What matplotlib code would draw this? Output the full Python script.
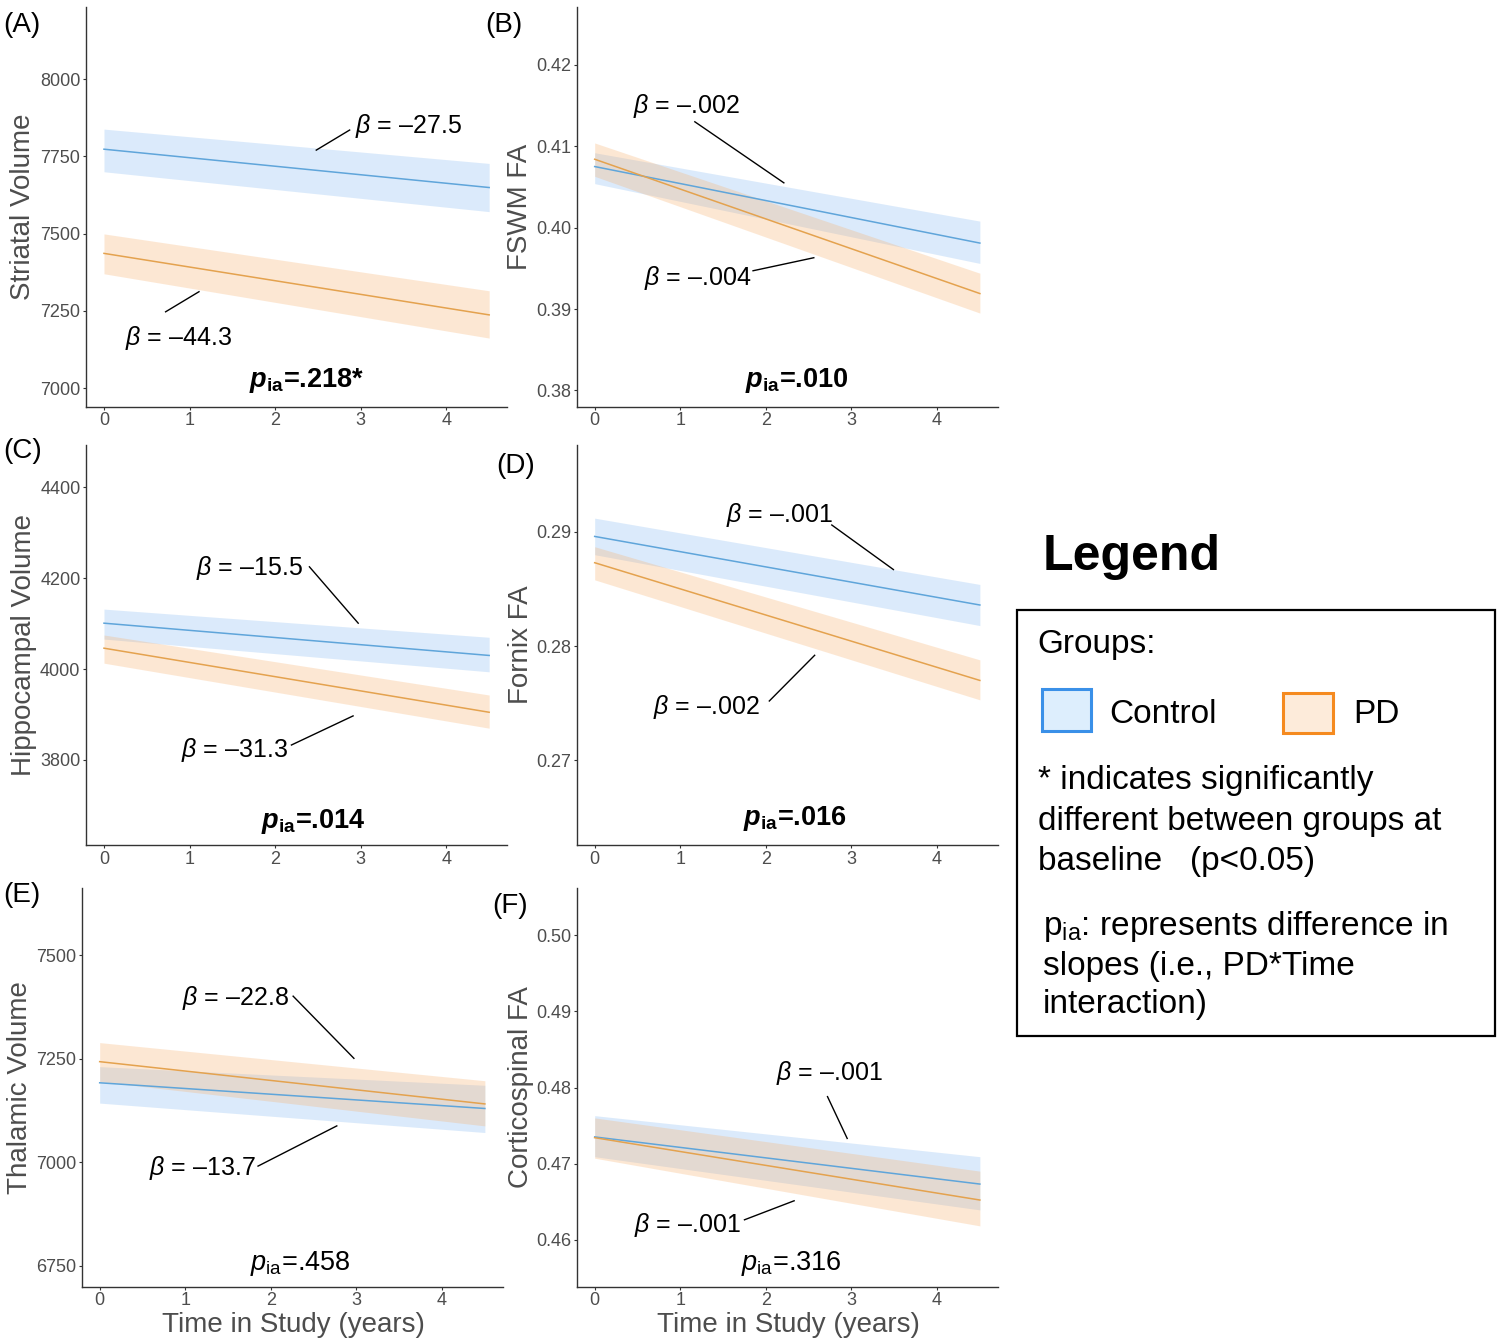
import matplotlib
matplotlib.use("Agg")
import matplotlib.pyplot as plt
from matplotlib.patches import Rectangle

plt.rcParams['font.family'] = ['Liberation Sans', 'DejaVu Sans']
plt.rcParams['mathtext.fontset'] = 'custom'
plt.rcParams['mathtext.rm'] = 'Liberation Sans'
plt.rcParams['mathtext.it'] = 'Liberation Sans:italic'
plt.rcParams['mathtext.bf'] = 'Liberation Sans:bold'
plt.rcParams['mathtext.bfit'] = 'Liberation Sans:italic:bold'

# ---------------- data ----------------
time_years = [0.0, 4.5]
x_ticks = [0, 1, 2, 3, 4]
groups = ["Control", "PD"]

# (A) Striatal Volume
striatal_ctrl_fit = [7773, 7649]
striatal_ctrl_lo = [7700, 7571]
striatal_ctrl_hi = [7838, 7727]
striatal_pd_fit = [7436, 7237]
striatal_pd_lo = [7370, 7162]
striatal_pd_hi = [7499, 7315]
striatal_ticks = [7000, 7250, 7500, 7750, 8000]
striatal_ticklabels = ["7000", "7250", "7500", "7750", "8000"]

# (B) FSWM FA
fswm_ctrl_fit = [0.4075, 0.3981]
fswm_ctrl_lo = [0.4054, 0.3956]
fswm_ctrl_hi = [0.4092, 0.4008]
fswm_pd_fit = [0.4084, 0.3919]
fswm_pd_lo = [0.4063, 0.3895]
fswm_pd_hi = [0.4104, 0.3944]
fswm_ticks = [0.38, 0.39, 0.40, 0.41, 0.42]
fswm_ticklabels = ["0.38", "0.39", "0.40", "0.41", "0.42"]

# (C) Hippocampal Volume
hippo_ctrl_fit = [4101, 4030]
hippo_ctrl_lo = [4066, 3994]
hippo_ctrl_hi = [4132, 4070]
hippo_pd_fit = [4046, 3905]
hippo_pd_lo = [4013, 3870]
hippo_pd_hi = [4075, 3943]
hippo_ticks = [3800, 4000, 4200, 4400]
hippo_ticklabels = ["3800", "4000", "4200", "4400"]

# (D) Fornix FA
fornix_ctrl_fit = [0.2896, 0.2836]
fornix_ctrl_lo = [0.2880, 0.2818]
fornix_ctrl_hi = [0.2912, 0.2854]
fornix_pd_fit = [0.2873, 0.2770]
fornix_pd_lo = [0.2858, 0.2753]
fornix_pd_hi = [0.2887, 0.2788]
fornix_ticks = [0.27, 0.28, 0.29]
fornix_ticklabels = ["0.27", "0.28", "0.29"]

# (E) Thalamic Volume
thal_ctrl_fit = [7192, 7130]
thal_ctrl_lo = [7143, 7072]
thal_ctrl_hi = [7231, 7186]
thal_pd_fit = [7243, 7141]
thal_pd_lo = [7195, 7088]
thal_pd_hi = [7289, 7197]
thal_ticks = [6750, 7000, 7250, 7500]
thal_ticklabels = ["6750", "7000", "7250", "7500"]

# (F) Corticospinal FA
cst_ctrl_fit = [0.4735, 0.4673]
cst_ctrl_lo = [0.4709, 0.4639]
cst_ctrl_hi = [0.4763, 0.4709]
cst_pd_fit = [0.4734, 0.4652]
cst_pd_lo = [0.4707, 0.4618]
cst_pd_hi = [0.4760, 0.4690]
cst_ticks = [0.46, 0.47, 0.48, 0.49, 0.50]
cst_ticklabels = ["0.46", "0.47", "0.48", "0.49", "0.50"]

panel_letters = ["(A)", "(B)", "(C)", "(D)", "(E)", "(F)"]
y_titles = ["Striatal Volume", "FSWM FA", "Hippocampal Volume", "Fornix FA",
            "Thalamic Volume", "Corticospinal FA"]
beta_ctrl = ["\u201327.5", "\u2013.002", "\u201315.5", "\u2013.001", "\u201313.7", "\u2013.001"]
beta_pd = ["\u201344.3", "\u2013.004", "\u201331.3", "\u2013.002", "\u201322.8", "\u2013.001"]
p_ia = [".218*", ".010", ".014", ".016", ".458", ".316"]
p_ia_bold = [True, True, True, True, False, False]

# ---------------- styling / layout ----------------
W, H = 1500, 1344
CTRL_LINE = "#5FA5DA"
PD_LINE = "#E4A24E"
CTRL_FILL = "#8ABCF2"
PD_FILL = "#F8B270"
GRAY = "#4D4D4D"
XLIM = (-0.21, 4.71)
PX_PER_UNIT = 85.6

def fx(x):
    return x / W

def fy(y):
    return 1 - y / H

panels = [
    dict(ctrl=(striatal_ctrl_fit, striatal_ctrl_lo, striatal_ctrl_hi),
         pd=(striatal_pd_fit, striatal_pd_lo, striatal_pd_hi),
         ticks=striatal_ticks, tl=striatal_ticklabels, ylim=(6940, 8233),
         box=(86, 7, 406.7), ylab_x=23, lett=(3, 32),
         ctrl_txt=(2.93, 7825), ctrl_seg=((2.48, 2.87), (7770, 7835)),
         pd_txt=(0.24, 7140), pd_seg=((0.72, 1.11), (7247, 7312)),
         p_pos=(2.37, 7004)),
    dict(ctrl=(fswm_ctrl_fit, fswm_ctrl_lo, fswm_ctrl_hi),
         pd=(fswm_pd_fit, fswm_pd_lo, fswm_pd_hi),
         ticks=fswm_ticks, tl=fswm_ticklabels, ylim=(0.3780, 0.4271),
         box=(576.7, 7, 406.7), ylab_x=520, lett=(485, 32),
         ctrl_txt=(0.45, 0.41405), ctrl_seg=((1.17, 2.21), (0.4130, 0.4055)),
         pd_txt=(0.58, 0.39292), pd_seg=((1.85, 2.56), (0.3947, 0.3963)),
         p_pos=(2.36, 0.38037)),
    dict(ctrl=(hippo_ctrl_fit, hippo_ctrl_lo, hippo_ctrl_hi),
         pd=(hippo_pd_fit, hippo_pd_lo, hippo_pd_hi),
         ticks=hippo_ticks, tl=hippo_ticklabels, ylim=(3613, 4493),
         box=(86, 445, 845), ylab_x=24, lett=(3, 458),
         ctrl_txt=(1.08, 4207), ctrl_seg=((2.40, 2.97), (4225, 4101)),
         pd_txt=(0.90, 3807), pd_seg=((2.19, 2.91), (3833, 3897)),
         p_pos=(2.44, 3650)),
    dict(ctrl=(fornix_ctrl_fit, fornix_ctrl_lo, fornix_ctrl_hi),
         pd=(fornix_pd_fit, fornix_pd_lo, fornix_pd_hi),
         ticks=fornix_ticks, tl=fornix_ticklabels, ylim=(0.2626, 0.2976),
         box=(576.7, 445, 845), ylab_x=521, lett=(496, 473),
         ctrl_txt=(1.54, 0.29088), ctrl_seg=((2.77, 3.49), (0.2906, 0.2867)),
         pd_txt=(0.68, 0.27409), pd_seg=((2.04, 2.57), (0.2752, 0.2792)),
         p_pos=(2.34, 0.26431)),
    dict(ctrl=(thal_ctrl_fit, thal_ctrl_lo, thal_ctrl_hi),
         pd=(thal_pd_fit, thal_pd_lo, thal_pd_hi),
         ticks=thal_ticks, tl=thal_ticklabels, ylim=(6700, 7662),
         box=(81.7, 888, 1286.7), ylab_x=20, lett=(3, 902),
         ctrl_txt=(0.58, 6969), ctrl_seg=((1.85, 2.77), (6991, 7088)),
         pd_txt=(0.96, 7379), pd_seg=((2.26, 2.97), (7401, 7251)),
         p_pos=(2.34, 6740)),
    dict(ctrl=(cst_ctrl_fit, cst_ctrl_lo, cst_ctrl_hi),
         pd=(cst_pd_fit, cst_pd_lo, cst_pd_hi),
         ticks=cst_ticks, tl=cst_ticklabels, ylim=(0.4538, 0.5062),
         box=(576.7, 888.3, 1286.7), ylab_x=521, lett=(492, 913),
         ctrl_txt=(2.12, 0.48099), ctrl_seg=((2.72, 2.95), (0.4788, 0.4733)),
         pd_txt=(0.46, 0.46101), pd_seg=((1.75, 2.33), (0.4626, 0.4651)),
         p_pos=(2.30, 0.45597)),
]

fig = plt.figure(figsize=(W / 100, H / 100), dpi=100)

for i, pn in enumerate(panels):
    left, top, bottom = pn["box"]
    width = (XLIM[1] - XLIM[0]) * PX_PER_UNIT
    ax = fig.add_axes([fx(left), fy(bottom), width / W, (bottom - top) / H])

    cf, clo, chi = pn["ctrl"]
    pf, plo, phi = pn["pd"]
    ax.fill_between(time_years, clo, chi, color=CTRL_FILL, alpha=0.3, lw=0)
    ax.fill_between(time_years, plo, phi, color=PD_FILL, alpha=0.3, lw=0)
    ax.plot(time_years, cf, color=CTRL_LINE, lw=1.1)
    ax.plot(time_years, pf, color=PD_LINE, lw=1.1)

    ax.set_xlim(*XLIM)
    ax.set_ylim(*pn["ylim"])
    ax.set_xticks(x_ticks)
    ax.set_xticklabels([str(t) for t in x_ticks])
    ax.set_yticks(pn["ticks"])
    ax.set_yticklabels(pn["tl"])
    for s in ("top", "right"):
        ax.spines[s].set_visible(False)
    for s in ("left", "bottom"):
        ax.spines[s].set_color("#333333")
        ax.spines[s].set_linewidth(1.0)
    ax.tick_params(axis="both", colors="#333333", labelcolor=GRAY,
                   labelsize=13, length=2.5, width=0.8, pad=1.5)

    ax.set_ylabel(y_titles[i], fontsize=20, color=GRAY)
    ax.yaxis.set_label_coords(fx(pn["ylab_x"]), fy((top + bottom) / 2),
                              transform=fig.transFigure)
    ax.yaxis.label.set_va("center")

    if i >= 4:
        ax.set_xlabel("Time in Study (years)", fontsize=20, color=GRAY)
        ax.xaxis.set_label_coords(fx(left + 211.5), fy(1331.7),
                                  transform=fig.transFigure)
        ax.xaxis.label.set_va("baseline")

    # annotations
    ax.text(pn["ctrl_txt"][0], pn["ctrl_txt"][1], "$\\beta$ = " + beta_ctrl[i],
            fontsize=18, ha="left", va="baseline", color="black")
    ax.plot(pn["ctrl_seg"][0], pn["ctrl_seg"][1], color="black", lw=1.0)
    ax.text(pn["pd_txt"][0], pn["pd_txt"][1], "$\\beta$ = " + beta_pd[i],
            fontsize=18, ha="left", va="baseline", color="black")
    ax.plot(pn["pd_seg"][0], pn["pd_seg"][1], color="black", lw=1.0)

    if p_ia_bold[i]:
        ptxt = "$\\mathbfit{p}_{\\mathbf{ia}}$=" + p_ia[i]
        ax.text(pn["p_pos"][0], pn["p_pos"][1], ptxt, fontsize=19.5,
                fontweight="bold", ha="center", va="baseline")
    else:
        ptxt = "$p_{\\mathrm{ia}}$=" + p_ia[i]
        ax.text(pn["p_pos"][0], pn["p_pos"][1], ptxt, fontsize=19.5,
                ha="center", va="baseline")

    fig.text(fx(pn["lett"][0]), fy(pn["lett"][1]), panel_letters[i],
             fontsize=20, ha="left", va="baseline")

# ---------------- legend panel ----------------
fig.text(fx(1043), fy(570), "Legend", fontsize=36, fontweight="bold",
         ha="left", va="baseline")
fig.add_artist(Rectangle((fx(1017), fy(1036)), (1495 - 1017) / W, (1036 - 610) / H,
                         transform=fig.transFigure, fill=False,
                         edgecolor="black", lw=1.6))
fig.text(fx(1037), fy(653), "Groups:", fontsize=24, ha="left", va="baseline")
fig.add_artist(Rectangle((fx(1042), fy(731)), 49 / W, 42 / H,
                         transform=fig.transFigure, facecolor="#DDEEFD",
                         edgecolor="#3A90E8", lw=2.2))
fig.text(fx(1109), fy(723), groups[0], fontsize=24, ha="left", va="baseline")
fig.add_artist(Rectangle((fx(1283), fy(733)), 50 / W, 40 / H,
                         transform=fig.transFigure, facecolor="#FDEBDA",
                         edgecolor="#F58A1F", lw=2.2))
fig.text(fx(1353), fy(723), groups[1], fontsize=24, ha="left", va="baseline")

legend_lines = [
    (1038, 789, "* indicates significantly"),
    (1038, 830, "different between groups at"),
    (1038, 870, "baseline   (p<0.05)"),
    (1043, 935, "p$_{\\mathrm{ia}}$: represents difference in"),
    (1043, 975, "slopes (i.e., PD*Time"),
    (1043, 1013, "interaction)"),
]
for x, y, s in legend_lines:
    fig.text(fx(x), fy(y), s, fontsize=24, ha="left", va="baseline")

fig.savefig("out.png", dpi=100)
